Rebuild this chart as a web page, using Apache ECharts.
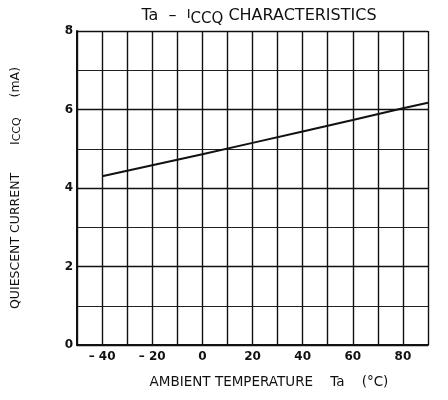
<!DOCTYPE html>
<html>
<head>
<meta charset="utf-8">
<script src="https://cdn.jsdelivr.net/npm/echarts@6/dist/echarts.min.js"></script>
<style>
  html, body { margin: 0; padding: 0; background: #fff; }
  #chart { width: 448px; height: 400px; }
</style>
</head>
<body>
<div id="chart"></div>
<script>
// Ambient temperature (°C) and quiescent current ICCQ (mA)
const temperature = [-40, -20, 0, 20, 40, 60, 80, 90];
const iccq = [4.30, 4.58, 4.86, 5.15, 5.44, 5.73, 6.03, 6.17];
const xTickLabels = [-40, -20, 0, 20, 40, 60, 80];
const yTickLabels = [0, 2, 4, 6, 8];

const ink = '#111';
const font = 'DejaVu Sans';

const chart = echarts.init(document.getElementById('chart'));
chart.setOption({
  animation: false,
  backgroundColor: '#fff',
  title: {
    text: 'Ta  –  {i|I}{sub|CCQ} CHARACTERISTICS',
    left: 254,
    textAlign: 'center',
    top: 0,
    textStyle: {
      fontFamily: font, fontSize: 16, fontWeight: 'normal', color: ink,
      rich: {
        i: { fontFamily: font, fontSize: 13, color: ink, padding: [0, 0, 2, 0] },
        sub: { fontFamily: font, fontSize: 15, color: ink, padding: [7, 0, 0, 0] }
      }
    }
  },
  grid: { left: 77, right: 20, top: 31, bottom: 55 },
  xAxis: {
    type: 'value',
    min: -50, max: 90, interval: 10,
    name: 'AMBIENT TEMPERATURE    Ta    (°C)',
    nameLocation: 'middle',
    nameGap: 30,
    nameTextStyle: { fontFamily: font, fontSize: 13.5, color: ink, padding: [0, 0, 0, 33] },
    axisLine: { onZero: false, lineStyle: { color: ink, width: 2 } },
    axisTick: { show: false },
    axisLabel: {
      fontFamily: font, fontSize: 12, fontWeight: 'bold', color: ink, margin: 6,
      formatter: v => xTickLabels.includes(v) ? (v < 0 ? '– ' + Math.abs(v) : String(v)) : ''
    },
    splitLine: { show: true, lineStyle: { color: ink, width: 1.4 } }
  },
  yAxis: {
    type: 'value',
    min: 0, max: 8, interval: 2,
    name: 'QUIESCENT CURRENT       I{sub|CCQ}     (mA)',
    nameLocation: 'middle',
    nameGap: 54,
    nameTextStyle: {
      fontFamily: font, fontSize: 12.5, color: ink,
      rich: { sub: { fontFamily: font, fontSize: 11, color: ink, padding: [3, 0, 0, 0] } }
    },
    axisLine: { onZero: false, lineStyle: { color: ink, width: 2 } },
    axisTick: { show: false },
    axisLabel: {
      fontFamily: font, fontSize: 12, fontWeight: 'bold', color: ink, margin: 4,
      formatter: v => yTickLabels.includes(v) ? String(v) : ''
    },
    splitLine: { show: true, lineStyle: { color: ink, width: 1.4 } },
    minorTick: { show: false, splitNumber: 2 },
    minorSplitLine: { show: true, lineStyle: { color: '#222', width: 1 } }
  },
  series: [{
    type: 'line',
    data: temperature.map((t, i) => [t, iccq[i]]),
    symbol: 'none',
    lineStyle: { color: ink, width: 2 }
  }]
});
</script>
</body>
</html>
